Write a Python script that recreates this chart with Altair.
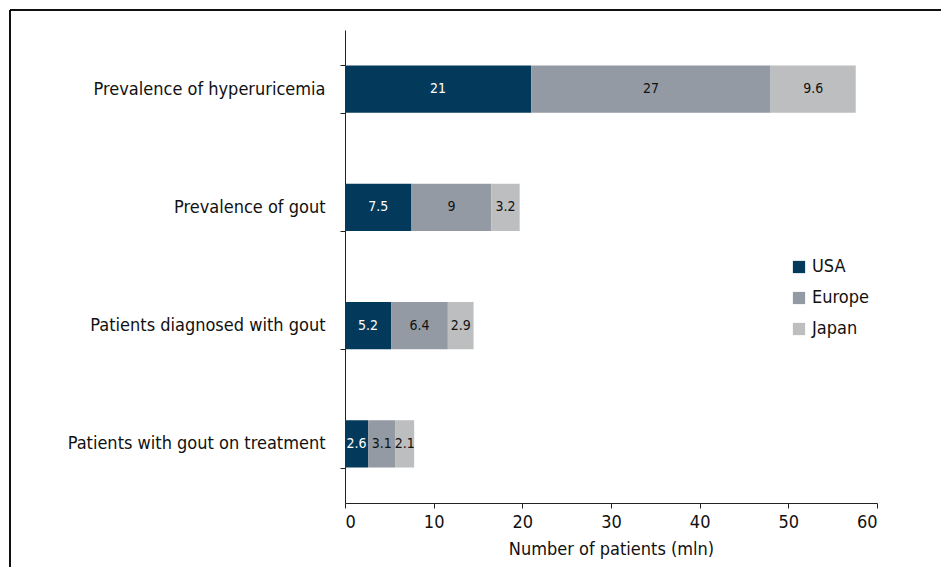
import altair as alt
import pandas as pd

categories = ["Prevalence of hyperuricemia", "Prevalence of gout",
              "Patients diagnosed with gout", "Patients with gout on treatment"]
regions = ["USA", "Europe", "Japan"]
usa = [21, 7.5, 5.2, 2.6]
europe = [27, 9, 6.4, 3.1]
japan = [9.6, 3.2, 2.9, 2.1]
colors = ["#033a5c", "#939aa3", "#bdbec0"]

rows = []
for i, c in enumerate(categories):
    for j, (r, vals) in enumerate(zip(regions, [usa, europe, japan])):
        rows.append({"category": c, "region": r, "value": vals[i], "order": j,
                     "label": f"{vals[i]:g}"})
df = pd.DataFrame(rows)

FONT = "DejaVu Sans Condensed, Roboto, sans-serif"

base = alt.Chart(df).transform_stack(
    stack="value", groupby=["category"], sort=[alt.SortField("order")], as_=["x0", "x1"]
).transform_calculate(mid="(datum.x0 + datum.x1) / 2")

ysc = alt.Y("category:N", sort=categories,
            scale=alt.Scale(paddingInner=0.6, paddingOuter=0.3),
            axis=alt.Axis(title=None, tickBand="extent", labelFont=FONT, labelFontSize=18,
                          labelColor="#111", tickColor="#222", domainColor="#222",
                          tickSize=5, labelPadding=15, grid=False, labelLimit=400))

bars = base.mark_bar().encode(
    x=alt.X("x0:Q", scale=alt.Scale(domain=[0, 60], nice=False),
            axis=alt.Axis(title="Number of patients (mln)", values=[0, 10, 20, 30, 40, 50, 60],
                          labelFont=FONT, labelFontSize=18, labelColor="#111",
                          titleFont=FONT, titleFontSize=18, titleFontWeight="normal",
                          titleColor="#111", tickColor="#222", domainColor="#222",
                          tickSize=5, labelPadding=5, titlePadding=9, grid=False)),
    x2="x1:Q",
    y=ysc,
    color=alt.Color("region:N", sort=regions,
                    scale=alt.Scale(domain=regions, range=colors),
                    legend=alt.Legend(title=None, orient="none", legendX=445, legendY=228,
                                      symbolType="square", symbolSize=150,
                                      labelFont=FONT, labelFontSize=18, labelColor="#111",
                                      rowPadding=13, symbolStrokeWidth=0)),
)

texts = base.mark_text(font=FONT, fontSize=14).encode(
    x="mid:Q",
    y=alt.Y("category:N", sort=categories),
    text="label:N",
    color=alt.condition(alt.datum.region == "USA", alt.value("white"), alt.value("#111")),
)

frame_top = alt.Chart(pd.DataFrame({"k": [0]})).mark_rule(color="#111", strokeWidth=2).encode(
    x=alt.value(-335), x2=alt.value(620), y=alt.value(-20))
frame_left = alt.Chart(pd.DataFrame({"k": [0]})).mark_rule(color="#111", strokeWidth=2).encode(
    x=alt.value(-335), y=alt.value(-20), y2=alt.value(560))

chart = alt.layer(bars, texts, frame_top, frame_left).properties(
    width=532, height=473,
    padding={"left": 337, "top": 22, "right": 64, "bottom": 64},
    autosize=alt.AutoSizeParams(type="none"),
).configure_view(stroke=None)

chart.save("out.html", embed_options={"renderer": "svg", "actions": False})
